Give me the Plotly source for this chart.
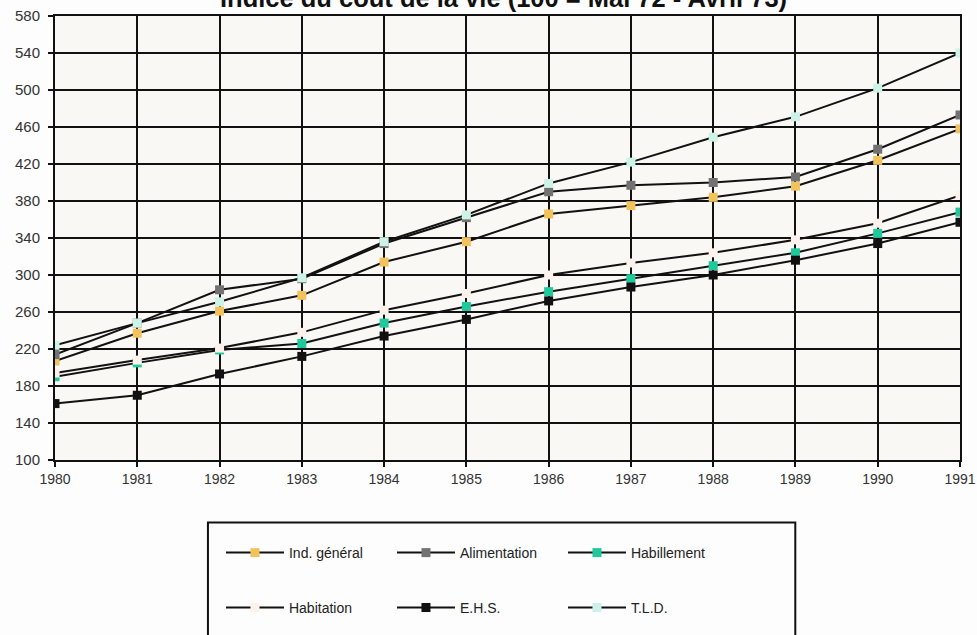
import plotly.graph_objects as go

years = [1980, 1981, 1982, 1983, 1984, 1985, 1986, 1987, 1988, 1989, 1990, 1991]
ind_general = [207, 237, 261, 278, 314, 336, 366, 375, 384, 396, 424, 458]
alimentation = [214, 248, 284, 296, 334, 362, 390, 397, 400, 406, 436, 473]
habillement = [190, 205, 219, 226, 248, 266, 282, 296, 310, 324, 345, 368]
habitation = [194, 208, 221, 238, 262, 280, 300, 313, 324, 338, 356, 386]
ehs = [161, 170, 193, 212, 234, 252, 272, 287, 300, 316, 334, 357]
tld = [224, 248, 271, 297, 336, 365, 399, 422, 449, 471, 502, 540]

y_ticks = list(range(100, 581, 40))
title_text = "Indice du coût de la vie (100 = Mai 72 - Avril 73)"

FONT = "Liberation Sans, Arial, sans-serif"

series = [
    ("Ind. général", ind_general, "#f2c35c", "legend"),
    ("Alimentation", alimentation, "#727272", "legend"),
    ("Habillement", habillement, "#1fc99b", "legend"),
    ("Habitation", habitation, "#fdf1ec", "legend2"),
    ("E.H.S.", ehs, "#111111", "legend2"),
    ("T.L.D.", tld, "#cdf2e8", "legend2"),
]

fig = go.Figure()
for name, vals, col, leg in series:
    fig.add_trace(go.Scatter(
        x=years, y=vals, name=name, mode="lines+markers",
        line=dict(color="#111111", width=2),
        marker=dict(symbol="square", size=9, color=col, line=dict(width=0)),
        legend=leg,
    ))

leg_common = dict(orientation="h", xanchor="left", yanchor="middle",
                  entrywidth=98, entrywidthmode="pixels", itemwidth=58,
                  bgcolor="rgba(0,0,0,0)", font=dict(size=14, color="#222222"),
                  traceorder="normal")

fig.update_layout(
    width=977, height=635,
    margin=dict(l=55, r=17, t=16, b=175, autoexpand=False),
    paper_bgcolor="#fdfdfd",
    plot_bgcolor="#faf8f5",
    font=dict(family=FONT, size=14, color="#333333"),
    showlegend=True,
    xaxis=dict(range=[1980, 1991], tickmode="array", tickvals=years,
               ticktext=[str(y) for y in years],
               showgrid=True, gridcolor="#111111", gridwidth=2,
               showline=True, linecolor="#111111", linewidth=2, mirror=True,
               ticks="outside", ticklen=5, tickcolor="#111111", tickwidth=2,
               zeroline=False, ticklabeloverflow="allow",
               tickfont=dict(size=14, color="#333333")),
    yaxis=dict(range=[100, 580], tickmode="array", tickvals=y_ticks,
               showgrid=True, gridcolor="#111111", gridwidth=2,
               showline=True, linecolor="#111111", linewidth=2, mirror=True,
               ticks="outside", ticklen=5, tickcolor="#111111", tickwidth=2,
               zeroline=False, ticklabeloverflow="allow", ticklabelstandoff=5,
               tickfont=dict(size=15, color="#333333")),
    legend=dict(x=0.1834, y=-0.2095, **leg_common),
    legend2=dict(x=0.1834, y=-0.333, **leg_common),
    shapes=[dict(type="rect", xref="paper", yref="paper",
                 x0=0.169, x1=0.818, y0=-0.141, y1=-0.45,
                 line=dict(color="#111111", width=2), fillcolor="rgba(0,0,0,0)")],
    annotations=[dict(text="<b>" + title_text + "</b>", xref="paper", yref="paper",
                      x=0.496, y=1.0, xanchor="center", yanchor="bottom", yshift=2,
                      showarrow=False,
                      font=dict(family=FONT, size=25.5, color="#111111"))],
)

fig.write_html("out.html", config={"displayModeBar": False},
               post_script="document.body.style.margin='0';document.body.style.overflow='hidden';")
